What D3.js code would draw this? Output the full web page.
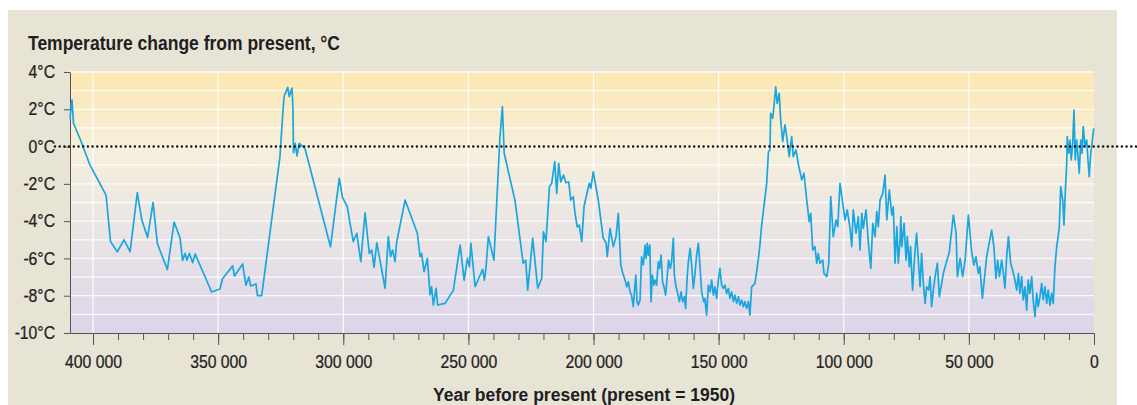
<!DOCTYPE html>
<html>
<head>
<meta charset="utf-8">
<script src="https://cdn.jsdelivr.net/npm/d3@7"></script>
<style>
  html, body { margin: 0; padding: 0; background: #ffffff; }
  svg { display: block; }
  text { font-family: "Liberation Sans", Arial, sans-serif; }
</style>
</head>
<body>
<div id="chart"></div>
<script>
// ice core record, years before present (thousands) and temperature change (°C)
var yearsK = [
  409.2, 408.4, 407.8, 405.0, 401.2, 394.8, 393.0, 390.3, 387.6, 385.2,
  382.3, 380.5, 378.2, 376.0, 374.3, 370.3, 367.6, 365.2, 364.2, 363.2,
  362.5, 361.5, 360.2, 359.2, 352.6, 349.3, 348.3, 344.2, 343.5, 340.2,
  338.9, 337.7, 337.0, 334.9, 334.3, 332.6, 325.3, 324.0, 323.6, 322.2,
  321.6, 320.5, 320.1, 319.9, 319.2, 318.5, 317.6, 315.3, 305.1, 301.6,
  300.3, 298.4, 297.3, 296.0, 294.6, 293.0, 291.3, 289.6, 288.6, 287.7,
  286.6, 283.3, 282.0, 281.1, 280.3, 279.3, 278.7, 275.3, 270.4, 269.3,
  268.7, 267.7, 266.4, 265.3, 264.7, 264.0, 262.9, 262.3, 259.3, 256.0,
  253.3, 251.7, 250.4, 249.6, 249.0, 247.3, 245.3, 244.3, 243.6, 243.0,
  242.0, 239.8, 237.4, 236.4, 235.7, 231.4, 228.1, 227.1, 226.3, 224.3,
  222.3, 220.7, 220.0, 219.0, 217.6, 216.7, 215.5, 214.7, 213.9, 213.1,
  212.0, 211.0, 209.9, 209.1, 208.1, 207.4, 206.5, 205.7, 204.7, 203.8,
  201.7, 201.1, 200.1, 198.1, 196.1, 195.0, 194.5, 193.4, 192.1, 191.0,
  190.1, 189.1, 188.3, 187.4, 186.7, 186.1, 185.4, 184.8, 184.1, 183.7,
  183.1, 182.6, 182.1, 181.4, 180.8, 180.1, 179.4, 179.0, 178.5, 178.1,
  177.5, 177.0, 176.5, 175.9, 175.4, 174.8, 174.1, 173.6, 173.0, 172.4,
  171.7, 171.2, 170.5, 170.0, 169.3, 168.8, 168.1, 167.7, 167.0, 166.5,
  165.7, 165.0, 164.4, 163.7, 163.2, 162.6, 162.1, 161.4, 160.8, 160.1,
  159.5, 158.8, 158.1, 157.4, 156.8, 156.0, 155.5, 154.8, 154.1, 153.4,
  152.8, 152.1, 151.5, 150.8, 150.1, 149.5, 148.8, 148.1, 147.5, 146.8,
  146.1, 145.5, 144.8, 144.1, 143.5, 142.8, 142.1, 141.5, 140.8, 140.1,
  139.5, 138.8, 138.1, 137.5, 136.8, 136.1, 135.5, 134.8, 134.1, 133.5,
  132.8, 130.8, 130.1, 129.5, 129.2, 128.4, 127.9, 127.2, 126.6, 125.8,
  125.2, 124.4, 123.5, 122.8, 121.8, 120.8, 120.2, 119.1, 118.2, 116.8,
  115.9, 114.8, 113.8, 113.2, 112.4, 111.5, 110.8, 110.2, 109.5, 108.4,
  107.9, 106.8, 106.0, 105.2, 104.2, 103.1, 102.4, 101.5, 100.4, 99.5,
  98.6, 97.5, 96.8, 96.2, 95.1, 94.2, 93.5, 92.8, 92.2, 91.1,
  90.2, 89.2, 88.4, 87.5, 86.8, 86.2, 85.5, 84.4, 83.5, 82.8,
  81.8, 80.8, 80.2, 79.5, 78.8, 78.2, 77.5, 77.2, 76.8, 75.9,
  75.1, 74.6, 73.8, 73.3, 72.5, 71.5, 70.9, 70.2, 69.5, 68.9,
  68.2, 67.5, 66.9, 66.1, 65.5, 64.9, 64.2, 63.5, 62.6, 61.8,
  60.2, 57.8, 56.2, 55.1, 54.6, 53.5, 52.5, 51.5, 50.2, 48.9,
  48.0, 47.2, 46.2, 45.6, 44.6, 42.9, 40.9, 40.0, 39.2, 38.5,
  37.8, 36.9, 36.2, 35.6, 34.9, 34.2, 33.3, 32.2, 31.6, 30.9,
  30.2, 29.6, 28.9, 28.3, 27.6, 26.9, 26.3, 25.6, 24.9, 24.3,
  23.6, 22.9, 22.3, 21.6, 20.9, 20.3, 19.6, 18.9, 18.3, 17.6,
  16.9, 16.3, 15.6, 14.9, 13.9, 13.3, 12.5, 12.0, 11.5, 10.9,
  10.7, 10.1, 9.6, 9.1, 8.5, 8.0, 7.5, 6.9, 6.4, 5.9,
  5.3, 4.8, 4.3, 3.6, 2.9, 2.4, 1.9, 1.3, 0.8, 0.1
];
var tempChange = [
  1.5, 2.5, 1.25, 0.35, -1.0, -2.6, -5.1, -5.64, -5.0, -5.64,
  -2.47, -3.94, -4.87, -3.0, -5.2, -6.6, -4.05, -4.92, -6.1, -5.73,
  -6.1, -5.73, -6.23, -5.76, -7.8, -7.64, -7.1, -6.4, -6.94, -6.3,
  -7.43, -7.0, -7.48, -7.37, -8.0, -8.0, -0.54, 2.1, 2.7, 3.18,
  2.68, 3.14, 2.05, -0.33, 0.17, -0.5, 0.17, -0.1, -5.37, -1.7,
  -2.72, -3.22, -4.12, -5.1, -4.65, -6.17, -3.55, -5.73, -5.55, -6.48,
  -5.16, -7.6, -4.83, -5.91, -5.55, -6.17, -5.16, -2.87, -4.65, -5.91,
  -5.73, -6.71, -6.0, -7.96, -7.52, -8.5, -7.6, -8.5, -8.41, -7.7,
  -5.28, -7.16, -6.0, -6.45, -5.19, -7.52, -6.89, -6.59, -7.16, -6.53,
  -4.83, -6.09, 0.5, 2.14, -0.36, -2.87, -6.26, -6.09, -7.7, -4.92,
  -7.6, -7.07, -4.57, -5.1, -2.15, -1.97, -0.81, -2.51, -0.9, -1.89,
  -1.53, -1.94, -1.89, -2.87, -2.69, -3.58, -4.3, -4.21, -5.1, -3.23,
  -1.97, -2.24, -1.35, -2.87, -4.92, -5.16, -5.91, -4.39, -5.37, -4.83,
  -3.58, -6.35, -6.8, -7.16, -7.52, -7.25, -7.79, -7.97, -8.59, -7.88,
  -6.89, -8.32, -8.5, -8.23, -5.91, -6.35, -5.28, -6.0, -5.19, -5.82,
  -5.28, -8.32, -6.89, -7.43, -7.16, -7.43, -6.18, -6.53, -5.82, -7.25,
  -7.61, -7.97, -6.89, -6.09, -6.53, -6.18, -4.92, -6.89, -7.52, -7.79,
  -8.32, -7.79, -8.32, -8.05, -8.68, -7.07, -6.18, -5.46, -6.35, -7.61,
  -6.89, -5.82, -5.19, -6.53, -7.79, -8.32, -8.14, -9.04, -7.43, -7.79,
  -7.16, -7.97, -7.52, -8.14, -7.16, -6.53, -7.43, -7.61, -7.43, -7.88,
  -7.61, -8.14, -7.79, -8.32, -7.97, -8.41, -8.05, -8.5, -8.23, -8.59,
  -8.32, -8.68, -8.32, -9.04, -7.52, -7.43, -7.34, -6.71, -6.0, -5.28,
  -4.21, -1.97, -0.28, -0.18, 1.78, 1.52, 2.14, 3.21, 2.32, 2.86,
  1.42, 0.26, 1.16, 0.53, -0.54, 0.53, -0.54, -0.18, -0.9, -1.79,
  -1.43, -2.87, -4.03, -3.58, -5.55, -5.37, -6.26, -5.73, -6.26, -6.09,
  -6.8, -6.98, -6.26, -2.69, -4.83, -3.94, -4.3, -1.97, -3.04, -3.94,
  -3.4, -4.39, -5.37, -3.4, -4.65, -3.76, -5.55, -3.58, -4.39, -3.4,
  -5.1, -6.53, -4.12, -4.83, -3.49, -4.3, -2.87, -2.51, -1.53, -3.94,
  -2.33, -3.67, -3.23, -6.26, -4.3, -6.26, -5.01, -3.76, -5.37, -4.12,
  -6.09, -4.83, -6.45, -5.37, -7.7, -5.55, -4.65, -6.09, -7.52, -5.73,
  -7.34, -8.41, -7.52, -7.7, -6.98, -8.59, -7.7, -6.98, -6.26, -8.05,
  -6.8, -5.64, -3.67, -4.65, -6.98, -6.0, -6.98, -6.09, -3.67, -5.64,
  -6.35, -5.91, -6.8, -6.45, -8.14, -5.91, -4.48, -5.37, -7.07, -6.09,
  -6.98, -6.09, -6.8, -7.6, -5.91, -4.83, -6.26, -6.8, -7.16, -7.7,
  -6.8, -7.87, -6.98, -8.23, -7.52, -8.77, -7.16, -7.87, -6.98, -8.23,
  -9.12, -7.87, -8.59, -8.05, -7.34, -8.23, -7.52, -8.41, -7.7, -8.5,
  -7.87, -8.41, -6.45, -5.37, -4.39, -2.15, -2.87, -4.21, -2.51, -0.9,
  0.53, -0.36, 0.35, -0.72, 0.17, 1.96, -0.72, 0.35, -0.54, -1.43,
  0.35, -0.36, 1.07, 0.0, 0.35, -0.72, -1.62, -0.36, 0.17, 0.98
];

var yTickValues = [4, 2, 0, -2, -4, -6, -8, -10];
var xMajorTicks = [400000, 350000, 300000, 250000, 200000, 150000, 100000, 50000, 0];
var xMinorStep = 10000;

var titleText = "Temperature change from present, \u00B0C";
var xTitleText = "Year before present (present = 1950)";

var W = 1137, H = 405;
var plotL = 70, plotR = 1094, plotT = 72, plotB = 333;
var squeeze = 0.9; // condensed look for tick labels

var svg = d3.select("#chart").append("svg")
    .attr("width", W)
    .attr("height", H);

var defs = svg.append("defs");
var grad = defs.append("linearGradient")
    .attr("id", "plotBg")
    .attr("x1", 0).attr("y1", 0).attr("x2", 0).attr("y2", 1);
grad.append("stop").attr("offset", "0%").attr("stop-color", "#fde7b2");
grad.append("stop").attr("offset", "30%").attr("stop-color", "#f6efdc");
grad.append("stop").attr("offset", "55%").attr("stop-color", "#ece7e3");
grad.append("stop").attr("offset", "100%").attr("stop-color", "#dcd5ea");

// beige panel
svg.append("rect")
    .attr("x", 8).attr("y", 10)
    .attr("width", 1109).attr("height", H - 10)
    .attr("fill", "#e7e3d5");

var x = d3.scaleLinear().domain([409200, 0]).range([plotL, plotR]);
var y = d3.scaleLinear().domain([-10, 4]).range([plotB, plotT]);

// plot background
svg.append("rect")
    .attr("x", plotL).attr("y", plotT)
    .attr("width", plotR - plotL).attr("height", plotB - plotT)
    .attr("fill", "url(#plotBg)");

// white grid, every 1°C and every 50 000 years
var grid = svg.append("g");
grid.selectAll(".hgrid")
    .data(d3.range(-9, 5, 1))
    .enter().append("line")
    .attr("x1", plotL).attr("x2", plotR)
    .attr("y1", d => y(d)).attr("y2", d => y(d))
    .attr("stroke", "#ffffff").attr("stroke-opacity", 0.85).attr("stroke-width", 1.3);
grid.selectAll(".vgrid")
    .data(xMajorTicks.filter(d => d > 0))
    .enter().append("line")
    .attr("x1", d => x(d)).attr("x2", d => x(d))
    .attr("y1", plotT).attr("y2", plotB)
    .attr("stroke", "#ffffff").attr("stroke-opacity", 0.85).attr("stroke-width", 1.3);

// y axis
var gy = svg.append("g")
    .attr("transform", "translate(" + plotL + ",0)")
    .call(d3.axisLeft(y)
        .tickValues(yTickValues)
        .tickSize(6)
        .tickSizeOuter(0)
        .tickFormat(d => d + "\u00B0C"));
gy.select(".domain").attr("stroke", "#555");
gy.selectAll(".tick line").attr("stroke", "#555");
gy.selectAll(".tick text")
    .attr("x", -15 / squeeze)
    .attr("transform", "scale(" + squeeze + ",1)")
    .attr("font-size", 17.5)
    .attr("fill", "#222")
    .attr("stroke", "#222")
    .attr("stroke-width", 0.25);

// x axis: minor ticks then major ticks with labels
var spaced = d3.formatLocale({ decimal: ".", thousands: " ", grouping: [3], currency: ["", ""] }).format(",");
var gxMinor = svg.append("g")
    .attr("transform", "translate(0," + plotB + ")")
    .call(d3.axisBottom(x)
        .tickValues(d3.range(0, 409200, xMinorStep))
        .tickSize(7)
        .tickFormat(""));
gxMinor.select(".domain").remove();
gxMinor.selectAll(".tick line").attr("stroke", "#555");

var gx = svg.append("g")
    .attr("transform", "translate(0," + plotB + ")")
    .call(d3.axisBottom(x)
        .tickValues(xMajorTicks)
        .tickSize(12)
        .tickSizeOuter(0)
        .tickFormat(spaced));
gx.select(".domain").attr("stroke", "#555");
gx.selectAll(".tick line").attr("stroke", "#555");
gx.selectAll(".tick text")
    .attr("y", 22.5)
    .attr("transform", "scale(" + squeeze + ",1)")
    .attr("font-size", 17.5)
    .attr("fill", "#222")
    .attr("stroke", "#222")
    .attr("stroke-width", 0.25);

// temperature line
var pts = yearsK.map((k, i) => [k * 1000, tempChange[i]]);
var line = d3.line()
    .x(d => x(d[0]))
    .y(d => y(d[1]));
svg.append("path")
    .datum(pts)
    .attr("d", line)
    .attr("fill", "none")
    .attr("stroke", "#1aa6df")
    .attr("stroke-width", 1.7)
    .attr("stroke-linejoin", "round");

// dotted zero line, runs past the panel
svg.append("line")
    .attr("x1", 55).attr("x2", W)
    .attr("y1", y(0)).attr("y2", y(0))
    .attr("stroke", "#111")
    .attr("stroke-width", 2.5)
    .attr("stroke-linecap", "round")
    .attr("stroke-dasharray", "0 4.7");

// titles
svg.append("text")
    .attr("x", 28).attr("y", 50)
    .attr("font-size", 19.5)
    .attr("font-weight", "bold")
    .attr("fill", "#1e1e1e")
    .attr("textLength", 312)
    .attr("lengthAdjust", "spacingAndGlyphs")
    .text(titleText);

svg.append("text")
    .attr("x", 433).attr("y", 401)
    .attr("font-size", 17.5)
    .attr("font-weight", "bold")
    .attr("fill", "#1e1e1e")
    .attr("textLength", 302)
    .attr("lengthAdjust", "spacingAndGlyphs")
    .text(xTitleText);
</script>
</body>
</html>
